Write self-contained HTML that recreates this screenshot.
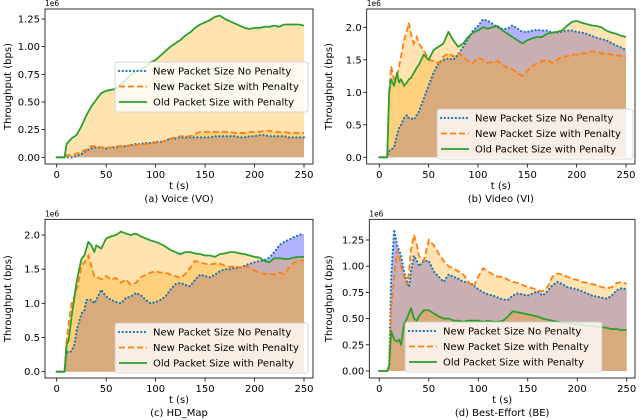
<!DOCTYPE html>
<html><head><meta charset="utf-8"><style>
html,body{margin:0;padding:0;background:#fff;}
svg{display:block;font-family:"DejaVu Sans","Liberation Sans",sans-serif;}
</style></head><body>
<svg id="fig" width="640" height="420" viewBox="0 0 640 420"></svg>
<script>
// ---- data (values in units of 1e6 bps) ----
const tA = [0,8,10,15,20,25,30,35,40,45,50,55,60,65,70,75,80,85,90,95,100,105,110,115,120,125,130,135,140,145,150,155,160,165,170,175,180,185,190,195,200,205,210,215,220,225,230,235,240,245,250];
const tB = [0,8,10,12,15,18,20,22,25,28,30,32,35,38,40,45,50,55,60,65,70,75,80,85,90,95,100,105,110,115,120,125,130,135,140,145,150,155,160,165,170,175,180,185,190,195,200,205,210,215,220,225,230,235,240,245,250];

const voiceBlue = [0,0,0.0,0.0,0.01,0.03,0.06,0.08,0.09,0.09,0.08,0.09,0.09,0.1,0.1,0.11,0.12,0.12,0.13,0.13,0.14,0.14,0.15,0.17,0.17,0.18,0.18,0.18,0.18,0.18,0.18,0.18,0.19,0.19,0.19,0.19,0.19,0.18,0.18,0.19,0.19,0.2,0.2,0.19,0.19,0.19,0.19,0.18,0.18,0.18,0.18];
const voiceOrange = [0,0,0.02,0.02,0.03,0.05,0.07,0.1,0.1,0.09,0.09,0.09,0.1,0.1,0.1,0.11,0.11,0.12,0.12,0.12,0.13,0.13,0.15,0.17,0.18,0.19,0.19,0.19,0.21,0.23,0.23,0.23,0.23,0.23,0.23,0.23,0.22,0.22,0.22,0.23,0.23,0.23,0.24,0.24,0.23,0.23,0.23,0.22,0.22,0.22,0.22];
const voiceGreen = [0,0,0.12,0.17,0.2,0.28,0.38,0.46,0.52,0.58,0.6,0.61,0.62,0.66,0.7,0.75,0.77,0.8,0.82,0.86,0.88,0.92,0.96,1.0,1.03,1.06,1.1,1.13,1.17,1.2,1.22,1.24,1.27,1.28,1.25,1.23,1.21,1.19,1.17,1.16,1.17,1.17,1.18,1.18,1.19,1.18,1.2,1.2,1.2,1.2,1.19];

const videoBlue = [0,0,0.1,0.12,0.15,0.35,0.45,0.5,0.6,0.65,0.6,0.6,0.58,0.65,0.7,0.9,1.1,1.3,1.45,1.5,1.52,1.5,1.58,1.7,1.82,1.95,2.02,2.12,2.1,2.05,2.0,1.97,1.98,2.03,1.98,1.93,1.93,1.95,1.96,1.95,1.95,1.92,1.92,1.93,1.95,1.95,1.93,1.92,1.9,1.87,1.84,1.82,1.8,1.76,1.72,1.69,1.65];
const videoOrange = [0,0,1.0,1.4,1.2,1.25,1.4,1.55,1.8,1.95,2.07,1.9,1.75,1.85,1.75,1.65,1.5,1.48,1.45,1.55,1.6,1.55,1.6,1.55,1.48,1.45,1.53,1.5,1.45,1.47,1.48,1.42,1.38,1.35,1.3,1.25,1.33,1.4,1.45,1.48,1.5,1.45,1.5,1.55,1.55,1.58,1.58,1.6,1.6,1.63,1.62,1.6,1.6,1.58,1.57,1.56,1.55];
const videoGreen = [0,0,1.0,1.2,1.1,1.3,1.15,1.2,1.1,1.15,1.2,1.22,1.3,1.38,1.42,1.58,1.5,1.65,1.7,1.75,1.93,1.8,1.7,1.75,1.85,1.92,1.95,2.0,1.98,2.0,2.02,1.95,1.9,1.85,1.8,1.75,1.8,1.83,1.85,1.85,1.9,1.92,1.93,1.95,2.02,2.08,2.1,2.07,2.05,2.03,2.02,2.0,1.95,1.92,1.9,1.87,1.85];

const mapBlue = [0,0,0.3,0.28,0.3,0.4,0.6,0.7,0.85,0.9,1.05,1.05,1.05,1.0,1.05,1.2,1.1,1.05,1.02,1.0,1.08,1.1,1.15,1.12,1.05,1.0,1.02,1.05,1.1,1.2,1.28,1.3,1.27,1.25,1.35,1.42,1.4,1.38,1.42,1.47,1.5,1.5,1.52,1.52,1.55,1.58,1.6,1.62,1.63,1.67,1.75,1.85,1.9,1.93,1.97,2.0,2.02];
const mapOrange = [0,0,0.45,0.7,1.0,1.1,1.2,1.3,1.55,1.6,1.65,1.7,1.55,1.4,1.4,1.35,1.4,1.35,1.37,1.3,1.35,1.27,1.3,1.38,1.42,1.45,1.47,1.45,1.45,1.42,1.4,1.37,1.43,1.52,1.62,1.6,1.58,1.57,1.58,1.58,1.55,1.53,1.55,1.52,1.55,1.52,1.48,1.45,1.43,1.43,1.42,1.45,1.43,1.52,1.6,1.62,1.63];
const mapGreen = [0,0,0.4,0.45,0.8,1.1,1.3,1.45,1.65,1.7,1.8,1.9,1.85,1.75,1.85,1.8,1.95,1.98,2.0,2.05,2.02,2.0,2.02,1.98,1.95,1.92,1.9,1.87,1.83,1.78,1.75,1.72,1.75,1.75,1.73,1.72,1.7,1.7,1.68,1.72,1.73,1.75,1.75,1.73,1.72,1.7,1.68,1.67,1.62,1.6,1.66,1.66,1.65,1.65,1.67,1.68,1.68];

const beBlue = [0,0,0.05,0.9,1.35,1.2,1.15,1.1,0.95,0.85,0.8,0.95,1.1,1.05,1.0,1.05,1.05,0.95,0.9,0.85,0.92,0.9,0.88,0.85,0.85,0.82,0.78,0.75,0.73,0.72,0.7,0.68,0.68,0.72,0.74,0.73,0.72,0.74,0.76,0.72,0.76,0.82,0.85,0.83,0.8,0.79,0.78,0.76,0.74,0.72,0.71,0.7,0.69,0.72,0.77,0.79,0.78];
const beOrange = [0,0,0.05,0.6,0.9,1.15,1.1,1.0,0.9,0.82,0.95,1.15,1.3,1.2,1.1,1.05,1.25,1.2,1.12,1.05,1.0,0.98,0.95,0.92,0.85,0.8,0.9,0.98,0.95,0.92,0.9,0.9,0.87,0.85,0.84,0.82,0.8,0.79,0.77,0.76,0.8,0.9,0.93,0.92,0.9,0.88,0.87,0.85,0.84,0.83,0.82,0.8,0.79,0.8,0.84,0.85,0.83];
const beGreen = [0,0,0.05,0.38,0.3,0.28,0.3,0.25,0.45,0.5,0.55,0.6,0.5,0.48,0.52,0.58,0.58,0.55,0.52,0.5,0.5,0.48,0.48,0.47,0.48,0.48,0.48,0.47,0.48,0.47,0.47,0.48,0.52,0.57,0.56,0.55,0.54,0.53,0.52,0.5,0.49,0.48,0.47,0.46,0.46,0.45,0.45,0.44,0.43,0.43,0.42,0.42,0.41,0.4,0.4,0.39,0.39];

const xTicks = [0,50,100,150,200,250];
const yTicksA = [0,0.25,0.5,0.75,1.0,1.25];
const yTicksB = [0,0.5,1.0,1.5,2.0];
const yTicksD = [0,0.25,0.5,0.75,1.0,1.25];
const legendLabels = ["New Packet Size No Penalty","New Packet Size with Penalty","Old Packet Size with Penalty"];

const NS = "http://www.w3.org/2000/svg";
const svg = document.getElementById('fig');
function mk(tag, attrs, parent){ const e=document.createElementNS(NS,tag); for(const k in attrs) e.setAttribute(k,attrs[k]); (parent||svg).appendChild(e); return e; }

const panels = [
 {id:'voice', t:tA, blue:voiceBlue, orange:voiceOrange, green:voiceGreen, yt:yTicksA, dec:2, ymax:1.25,
  L:45,R:313,T:9,B:164, x0:56.7,x1:304, y0:157.3,y1:19, caption:'(a) Voice (VO)', leg:[115,62,193]},
 {id:'video', t:tB, blue:videoBlue, orange:videoOrange, green:videoGreen, yt:yTicksB, dec:1, ymax:2.0,
  L:366.7,R:635,T:9,B:164, x0:379.3,x1:626, y0:157.3,y1:27.3, caption:'(b) Video (VI)', leg:[437,109,196]},
 {id:'hd-map', t:tB, blue:mapBlue, orange:mapOrange, green:mapGreen, yt:yTicksB, dec:1, ymax:2.0,
  L:45,R:313,T:219.3,B:378, x0:56.7,x1:304, y0:371.7,y1:235, caption:'(c) HD_Map', leg:[115,323,193]},
 {id:'best-effort', t:tB, blue:beBlue, orange:beOrange, green:beGreen, yt:yTicksD, dec:2, ymax:1.25,
  L:369.3,R:635,T:219.3,B:378, x0:379.3,x1:626.7, y0:371,y1:240, caption:'(d) Best-Effort (BE)', leg:[405,322,197]}
];

panels.forEach(p=>{
  const g = mk('g',{});
  
  
  const xs = v => p.x0 + (v/250)*(p.x1-p.x0);
  const ys = v => p.y0 + (v/p.ymax)*(p.y1-p.y0);
  const linePts = arr => arr.map((v,i)=>xs(p.t[i]).toFixed(2)+','+ys(v).toFixed(2)).join(' ');
  const areaPts = arr => linePts(arr)+' '+xs(p.t[p.t.length-1]).toFixed(2)+','+ys(0).toFixed(2)+' '+xs(0).toFixed(2)+','+ys(0).toFixed(2);
  const fb = mk('polygon',{points:areaPts(p.blue),fill:'#0000ff','fill-opacity':0.3},g);
   
  const fg = mk('polygon',{points:areaPts(p.green),fill:'#ffa500','fill-opacity':0.3},g);
   
  const fo = mk('polygon',{points:areaPts(p.orange),fill:'#ffa500','fill-opacity':0.3},g);
   
  const lb = mk('polyline',{points:linePts(p.blue),fill:'none',stroke:'#1f77b4','stroke-width':2.2,'stroke-dasharray':'0.1,3.6','stroke-linecap':'round'},g);
   
  const lo = mk('polyline',{points:linePts(p.orange),fill:'none',stroke:'#ff7f0e','stroke-width':1.8,'stroke-dasharray':'6,3'},g);
   
  const lg = mk('polyline',{points:linePts(p.green),fill:'none',stroke:'#2ca02c','stroke-width':1.8,'stroke-linejoin':'round'},g);
   
  const fr = mk('rect',{x:p.L,y:p.T,width:p.R-p.L,height:p.B-p.T,fill:'none',stroke:'#000','stroke-width':0.8},g);
   
  xTicks.forEach(v=>{
    const x=xs(v);
    mk('line',{x1:x,x2:x,y1:p.B,y2:p.B+3.5,stroke:'#000','stroke-width':0.8},g);
    const tx=mk('text',{x:x,y:p.B+14,'font-size':10,'text-anchor':'middle',fill:'#000'},g);
    tx.textContent=v;
     
  });
  p.yt.forEach(v=>{
    const y=ys(v);
    mk('line',{x1:p.L-3.5,x2:p.L,y1:y,y2:y,stroke:'#000','stroke-width':0.8},g);
    const ty=mk('text',{x:p.L-5,y:y+3.5,'font-size':10,'text-anchor':'end',fill:'#000'},g);
    ty.textContent=v.toFixed(p.dec);
     
  });
  const e6=mk('text',{x:p.L,y:p.T-3,'font-size':7.5,fill:'#000'},g);
  e6.textContent='1e6';
   
  const xl=mk('text',{x:(p.L+p.R)/2,y:p.B+25,'font-size':10,'text-anchor':'middle',fill:'#000'},g);
  xl.textContent='t (s)';
   
  const cap=mk('text',{x:(p.L+p.R)/2,y:p.B+38,'font-size':10,'text-anchor':'middle',fill:'#000'},g);
  cap.textContent=p.caption;
   
  const yx = p.L<100 ? 11 : 332;
  const yl=mk('text',{x:yx,y:(p.T+p.B)/2,'font-size':10,'text-anchor':'middle',fill:'#000',transform:'rotate(-90 '+yx+' '+((p.T+p.B)/2)+')'},g);
  yl.textContent='Throughput (bps)';
   
  const [lx,ly,lw]=p.leg;
  const lgd=mk('g',{},g);
   
  mk('rect',{x:lx,y:ly,width:lw,height:50,rx:2.5,fill:'#fff','fill-opacity':0.8,stroke:'#ccc','stroke-width':0.8},lgd);
  const styles=[{s:'#1f77b4',d:'0.1,3.6',w:2.2,cap:'round'},{s:'#ff7f0e',d:'6,3',w:1.8,cap:'butt'},{s:'#2ca02c',d:'',w:1.8,cap:'butt'}];
  legendLabels.forEach((lab,i)=>{
    const y=ly+9+i*15.5;
    const st=styles[i];
    const ent=mk('g',{},lgd);
     
    const a={x1:lx+4,x2:lx+32,y1:y,y2:y,stroke:st.s,'stroke-width':st.w,'stroke-linecap':st.cap};
    if(st.d) a['stroke-dasharray']=st.d;
    mk('line',a,ent);
    const tt=mk('text',{x:lx+38,y:y+3.5,'font-size':10,fill:'#000'},ent);
    tt.textContent=lab;
  });
});
</script>
</body></html>
